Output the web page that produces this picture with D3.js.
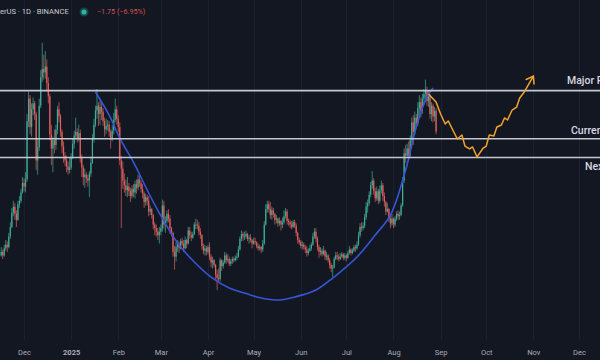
<!DOCTYPE html>
<html><head><meta charset="utf-8">
<script src="https://cdn.jsdelivr.net/npm/d3@7"></script>
<style>html,body{margin:0;padding:0;background:#131722;overflow:hidden}svg{display:block}</style>
</head><body><svg id="c" width="600" height="360"></svg>
<script>
// ---------- DATA ----------
const headerText = "erUS · 1D · BINANCE";
const changeText = "−1.75 (−6.95%)";
const startDate = "2024-11-16";
const firstOpen = 13.0;
const closes = [
13.3,13.0,13.6,13.9,13.7,14.6,15.4,16.6,17.1,16.5,16.0,17.3,17.6,18.3,19.1,
18.8,19.4,24.3,26.2,23.8,25.3,25.8,24.9,21.0,22.1,25.6,28.0,28.7,28.4,28.9,27.5,26.4,23.2,22.0,22.7,22.3,23.6,25.3,24.7,23.4,22.2,21.4,21.0,20.5,20.2,20.4,
21.3,22.4,23.1,23.4,22.9,23.3,21.2,20.4,19.6,19.8,19.5,19.3,19.9,20.8,22.8,24.0,25.2,25.6,24.9,25.5,25.1,24.3,23.6,23.9,24.0,23.4,22.8,23.5,24.4,25.3,24.5,
23.8,21.0,20.3,19.3,18.9,18.5,18.8,18.4,18.0,18.6,18.3,19.0,18.7,19.4,19.1,18.6,18.2,17.5,17.9,17.6,16.7,16.9,16.4,15.6,15.3,15.0,14.7,15.0,
15.3,17.2,15.6,15.9,16.5,16.1,15.3,14.9,13.3,12.9,13.7,13.9,13.6,14.2,14.0,13.6,14.3,14.0,15.1,14.7,14.5,14.8,15.6,15.6,15.5,15.0,14.7,13.8,13.4,13.6,13.3,
13.7,12.9,12.4,12.6,12.2,11.4,11.1,11.0,12.6,12.1,12.4,13.0,12.6,12.7,12.3,12.5,12.7,12.6,12.8,12.9,13.5,14.4,14.8,14.6,14.6,14.8,14.4,14.5,14.3,14.0,
14.2,14.1,13.8,13.6,13.7,13.5,14.0,15.6,16.9,17.3,16.9,16.4,16.8,16.5,16.0,16.1,15.7,15.9,15.6,15.8,16.3,16.7,15.9,15.8,15.6,15.4,15.8,15.5,14.9,14.3,14.1,
13.8,13.9,13.7,13.5,13.2,13.4,13.6,13.9,14.6,15.0,14.4,13.7,13.3,13.4,13.1,13.4,12.9,13.0,12.6,12.2,11.9,12.0,12.7,13.0,12.9,12.7,12.9,13.1,12.8,13.0,
12.8,13.2,13.5,13.2,13.4,13.7,13.6,13.9,14.7,15.4,15.3,15.5,16.2,17.1,17.4,18.1,18.9,19.3,18.4,17.8,18.4,17.6,18.5,18.9,18.0,17.5,16.7,16.9,16.1,15.7,16.1,
15.6,16.1,16.5,16.3,16.4,17.2,19.3,21.6,21.4,22.0,21.4,22.7,24.2,23.4,24.6,24.1,25.4,25.9,25.2,26.2,26.6,26.9,26.0,26.4,24.9,25.6,24.7,25.18,23.43];
const highs = [
13.7,13.5,13.9,14.3,14.2,14.9,15.8,17.0,17.6,17.4,16.8,17.6,18.0,18.6,19.6,
19.5,20.0,24.9,26.8,26.5,25.8,26.3,26.0,25.1,22.8,26.2,28.6,30.9,29.9,30.2,29.5,28.0,26.6,24.0,23.0,23.6,24.0,25.6,25.9,24.9,23.6,22.6,21.7,21.4,20.9,21.2,
21.6,22.8,23.5,24.6,23.7,24.0,23.6,21.5,20.6,20.3,20.0,19.8,20.1,21.2,23.2,24.5,25.6,27.0,25.9,26.2,26.0,25.4,24.6,24.5,24.4,24.3,23.6,24.0,25.0,26.2,25.6,
24.8,24.2,21.4,20.9,19.9,19.4,19.6,19.1,18.7,18.9,19.0,19.3,19.4,19.8,19.7,19.3,19.0,18.4,18.2,18.1,18.0,17.2,17.0,16.5,15.8,15.6,15.3,15.4,
15.6,17.7,17.6,16.3,16.8,16.9,16.4,15.4,15.0,13.8,14.1,14.3,14.2,14.4,14.5,14.3,14.6,14.4,15.4,15.4,15.0,15.0,15.8,16.1,16.0,15.8,15.3,14.8,14.0,13.9,13.8,
13.9,14.1,13.1,12.9,12.7,12.3,11.8,11.9,12.8,12.7,12.6,13.3,13.2,13.1,12.9,12.7,12.9,12.9,13.0,13.2,13.8,14.6,15.1,15.0,15.0,15.1,14.9,14.7,14.8,14.4,
14.5,14.5,14.2,14.0,13.9,13.8,14.3,15.9,17.3,17.6,17.6,17.5,17.1,17.0,16.6,16.4,16.2,16.2,16.0,16.2,16.8,17.0,16.9,16.1,16.0,15.9,16.0,16.0,15.7,15.0,14.5,
14.3,14.2,14.1,13.9,13.8,13.6,13.9,14.1,14.9,15.3,15.3,14.6,13.9,13.7,13.6,13.8,13.5,13.3,13.1,12.8,12.4,12.2,12.9,13.3,13.3,13.1,13.2,13.3,13.2,13.2,
13.1,13.4,13.8,13.6,13.6,13.9,13.9,14.2,15.0,15.7,15.8,15.8,16.5,17.5,17.7,18.4,19.2,20.1,19.5,18.7,18.8,18.6,18.9,19.3,19.1,18.3,17.6,17.4,17.0,16.4,16.5,
16.2,16.3,16.7,16.8,16.7,17.4,19.6,22.0,22.3,22.4,22.6,23.1,24.6,24.8,25.1,24.9,25.9,26.5,26.3,26.6,27.0,27.8,27.2,26.9,26.6,25.9,25.8,25.5,25.4];
const lows = [
12.9,12.7,12.9,13.4,13.3,13.6,14.4,15.3,16.3,16.0,15.4,15.9,17.0,17.4,18.2,
18.4,18.3,19.2,23.8,23.2,23.0,24.8,24.4,20.2,19.8,21.8,25.4,27.6,27.8,27.9,26.8,25.8,22.7,20.6,20.0,21.6,21.9,23.2,24.2,23.0,21.6,20.8,20.5,20.0,19.8,19.9,
20.2,21.1,22.0,22.9,22.5,22.6,20.8,19.6,18.9,18.7,19.1,18.8,17.9,19.6,20.7,22.5,23.8,24.5,23.9,24.0,24.4,23.9,23.0,23.2,23.5,23.0,22.0,22.6,23.2,24.2,24.0,
23.4,20.6,15.3,18.6,18.3,18.0,17.9,18.0,17.5,17.8,17.9,17.8,18.2,18.5,18.8,18.3,17.8,17.0,17.2,17.2,16.3,16.4,16.1,15.2,14.7,14.6,14.3,14.0,
14.7,15.0,15.2,14.9,15.7,15.8,14.8,14.6,12.9,11.8,12.5,13.3,13.2,13.5,13.8,13.3,13.5,13.6,13.9,14.4,14.2,14.4,14.7,15.2,15.2,14.7,14.4,13.5,13.1,13.0,13.0,
13.1,12.6,12.0,11.9,12.0,11.0,10.1,10.8,10.8,11.7,11.9,12.3,12.3,12.4,12.1,12.1,12.3,12.4,12.5,12.6,12.8,13.4,14.2,14.2,14.3,14.4,14.2,14.0,14.1,13.6,
13.9,13.9,13.6,13.4,13.4,13.2,13.3,13.9,15.5,16.6,16.6,16.1,16.0,16.2,15.6,15.7,15.4,15.5,15.1,15.3,15.6,16.1,15.6,15.5,15.3,15.2,15.3,15.3,14.6,14.0,13.9,
13.6,13.5,13.5,13.2,12.9,13.0,13.3,13.4,13.8,14.4,14.1,13.4,12.8,13.0,12.9,13.0,12.6,12.6,12.4,11.9,11.6,11.2,11.9,12.6,12.6,12.5,12.6,12.8,12.6,12.6,
12.5,12.7,13.1,13.0,13.1,13.3,13.3,13.5,13.8,14.5,15.0,15.1,15.3,16.0,16.6,17.2,17.9,18.6,18.1,17.5,17.6,17.3,17.4,18.2,17.6,17.1,16.4,16.6,15.8,15.3,15.5,
15.3,15.4,15.9,16.0,16.0,16.3,17.1,19.1,20.8,21.2,21.0,21.2,22.5,22.3,23.2,23.7,23.9,24.8,24.6,24.9,25.7,25.9,25.6,25.5,24.5,24.3,24.2,24.3,23.2];

const monthTicks = ["2024-12-01","2025-01-01","2025-02-01","2025-03-01","2025-04-01","2025-05-01","2025-06-01","2025-07-01","2025-08-01","2025-09-01","2025-10-01","2025-11-01","2025-12-01"];
const monthLabels = ["Dec","2025","Feb","Mar","Apr","May","Jun","Jul","Aug","Sep","Oct","Nov","Dec"];

const levelPrices = [26.87, 22.82, 21.24];
const levelLabels = ["Major Resistance", "Current Support", "Next Support"];

const cupDates = ["2025-01-17","2025-01-26","2025-02-02","2025-02-12","2025-02-20","2025-02-28","2025-03-12","2025-03-23","2025-04-03","2025-04-15","2025-04-25","2025-05-06","2025-05-18","2025-05-28","2025-06-11","2025-06-22","2025-06-30","2025-07-08","2025-07-20","2025-07-30","2025-08-09","2025-08-16","2025-08-23","2025-08-27"];
const cupPrices = [26.76,24.82,22.88,20.61,18.51,16.57,14.05,12.45,11.18,10.26,9.84,9.42,9.25,9.50,10.09,11.10,11.94,12.87,14.72,16.40,20.19,23.81,26.34,27.09];

const pathDates = ["2025-08-24","2025-08-29","2025-09-01","2025-09-04","2025-09-06","2025-09-09","2025-09-12","2025-09-15","2025-09-17","2025-09-20","2025-09-22","2025-09-25","2025-09-29","2025-10-01","2025-10-03","2025-10-06","2025-10-08","2025-10-11","2025-10-13","2025-10-15","2025-10-18","2025-10-21","2025-10-23","2025-10-26","2025-11-01"];
const pathPrices = [26.59,25.91,24.90,24.06,24.32,23.56,22.80,23.14,22.21,21.96,22.13,21.29,22.04,22.21,23.14,23.05,23.81,23.98,24.57,24.40,25.24,25.49,26.25,26.76,28.10];

// ---------- LAYOUT / STYLE ----------
const W = 600, H = 360;
const FONT = "Roboto, 'Liberation Sans', sans-serif";
const COL = {bg:"#131722", grid:"#1c2030", up:"#3fae98", down:"#e5605b", level:"#c4c7cd",
             cup:"#3656d6", path:"#f0a42a", axis:"#a9adb8", text:"#d6d9e0"};
const labelLayout = [{x:567, dy:-9}, {x:571, dy:-8}, {x:585, dy:9.5}];

const parse = d3.utcParse("%Y-%m-%d");
const svg = d3.select("#c");
const x = d3.scaleUtc().domain([parse("2024-12-01"), parse("2025-12-01")]).range([24, 579]);
const y = d3.scaleLinear().domain([4.2, 34.5]).range([H, 0]);

svg.append("rect").attr("width", W).attr("height", H).attr("fill", COL.bg);

// vertical grid
svg.append("g").selectAll("line").data(monthTicks.map(parse)).join("line")
  .attr("x1", d => Math.round(x(d)) + 0.5).attr("x2", d => Math.round(x(d)) + 0.5)
  .attr("y1", 0).attr("y2", 340).attr("stroke", COL.grid).attr("stroke-width", 1);

// candles
const t0 = parse(startDate);
const candles = closes.map((c, i) => ({
  date: d3.utcDay.offset(t0, i), o: i ? closes[i - 1] : firstOpen, c, h: highs[i], l: lows[i]
}));
const gC = svg.append("g");
gC.selectAll("line").data(candles).join("line")
  .attr("x1", d => x(d.date)).attr("x2", d => x(d.date))
  .attr("y1", d => y(d.h)).attr("y2", d => y(d.l))
  .attr("stroke", d => d.c >= d.o ? COL.up : COL.down).attr("stroke-width", 0.7);
gC.selectAll("rect").data(candles).join("rect")
  .attr("x", d => x(d.date) - 0.6).attr("width", 1.2)
  .attr("y", d => y(Math.max(d.o, d.c)))
  .attr("height", d => Math.max(0.8, Math.abs(y(d.o) - y(d.c))))
  .attr("fill", d => d.c >= d.o ? COL.up : COL.down);

// cup curve
const cupData = cupDates.map((d, i) => ({date: parse(d), p: cupPrices[i]}));
svg.append("path").datum(cupData)
  .attr("d", d3.line().x(d => x(d.date)).y(d => y(d.p)).curve(d3.curveCatmullRom.alpha(0.5)))
  .attr("fill", "none").attr("stroke", COL.cup).attr("stroke-width", 1.6);

// horizontal levels
const gL = svg.append("g");
gL.selectAll("line").data(levelPrices).join("line")
  .attr("x1", 0).attr("x2", W).attr("y1", d => y(d)).attr("y2", d => y(d))
  .attr("stroke", COL.level).attr("stroke-width", 1.6);
gL.selectAll("text").data(levelPrices).join("text")
  .attr("x", (d, i) => labelLayout[i].x).attr("y", (d, i) => y(d) + labelLayout[i].dy)
  .attr("dominant-baseline", "middle")
  .attr("font-family", FONT).attr("font-size", 10.5).attr("font-weight", 500)
  .attr("fill", COL.text).text((d, i) => levelLabels[i]);

// projected path
const pathData = pathDates.map((d, i) => ({date: parse(d), p: pathPrices[i]}));
svg.append("path").datum(pathData)
  .attr("d", d3.line().x(d => x(d.date)).y(d => y(d.p)))
  .attr("fill", "none").attr("stroke", COL.path).attr("stroke-width", 1.5)
  .attr("stroke-linejoin", "round");
// arrow head
const a = pathData[pathData.length - 1], b = pathData[pathData.length - 2];
const tx = x(a.date), ty = y(a.p);
const ang = Math.atan2(ty - y(b.p), tx - x(b.date));
const len = 8, spread = 0.6;
svg.append("path")
  .attr("d", `M${tx + len * Math.cos(ang + Math.PI - spread)},${ty + len * Math.sin(ang + Math.PI - spread)}L${tx},${ty}L${tx + len * Math.cos(ang + Math.PI + spread)},${ty + len * Math.sin(ang + Math.PI + spread)}`)
  .attr("fill", "none").attr("stroke", COL.path).attr("stroke-width", 1.5).attr("stroke-linecap", "round");

// x axis
const axis = d3.axisBottom(x).tickValues(monthTicks.map(parse))
  .tickFormat((d, i) => monthLabels[i]).tickSize(0).tickPadding(0);
const gx = svg.append("g").attr("transform", "translate(0,352)").call(axis);
gx.select(".domain").remove();
gx.selectAll("text").attr("y", 0).attr("dy", "0.35em")
  .attr("fill", COL.axis).attr("font-family", FONT).attr("font-size", 7.5)
  .attr("font-weight", (d, i) => monthLabels[i] === "2025" ? 700 : 400);

// header
svg.append("text").attr("x", 0).attr("y", 12).attr("dominant-baseline", "middle")
  .attr("font-family", FONT).attr("font-size", 7.6).attr("fill", "#c9ccd3").text(headerText);
svg.append("circle").attr("cx", 84).attr("cy", 12).attr("r", 4.5).attr("fill", "#26a69a").attr("opacity", 0.3);
svg.append("circle").attr("cx", 84).attr("cy", 12).attr("r", 2.6).attr("fill", "#2bb59f");
svg.append("text").attr("x", 97).attr("y", 12).attr("dominant-baseline", "middle")
  .attr("font-family", FONT).attr("font-size", 7.2).attr("fill", "#d0514f").text(changeText);
</script></body></html>
